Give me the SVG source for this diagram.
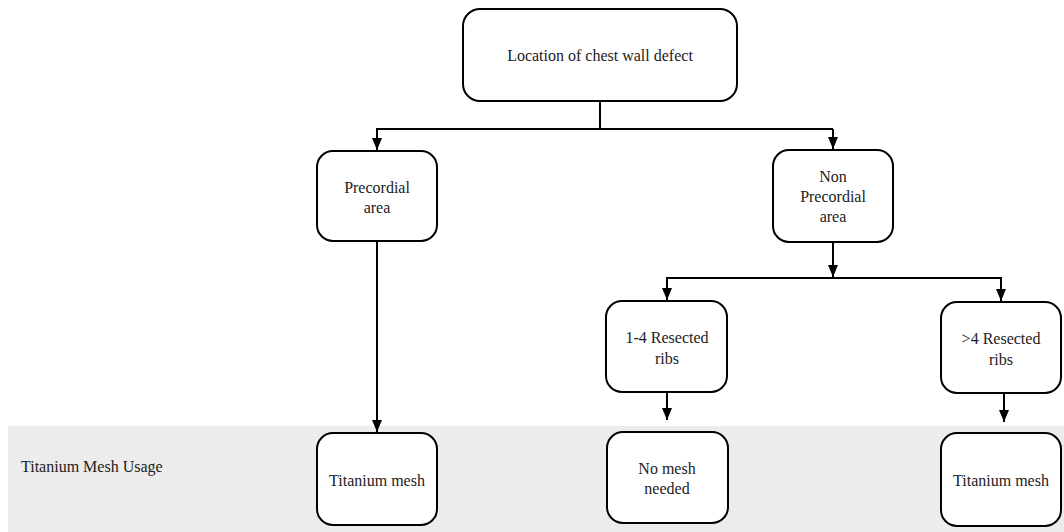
<svg xmlns="http://www.w3.org/2000/svg" width="1064" height="532" viewBox="0 0 1064 532">
<style>
.box{fill:#fff;stroke:#000;stroke-width:2}
text{font-family:'Liberation Serif','Times New Roman','DejaVu Serif',Times,serif;font-size:16px;fill:#222}
.t{text-anchor:middle}
.c{fill:none;stroke:#000;stroke-width:2}
</style>
<defs>
<marker id="arr" markerWidth="12" markerHeight="10" refX="12" refY="5" orient="auto" markerUnits="userSpaceOnUse" viewBox="0 0 12 10">
<path d="M0,0 L12,5 L0,10 Z" fill="#000"/>
</marker>
</defs>
<rect x="8" y="426" width="1056" height="106" fill="#ececec"/>
<text x="21" y="472" font-family="Liberation Serif, serif">Titanium Mesh Usage</text>
<g id="connectors">
<path class="c" d="M600,101 V129"/>
<path class="c" d="M376,129 H833"/>
<path class="c" d="M377,129 V150" marker-end="url(#arr)"/>
<path class="c" d="M833,129 V149" marker-end="url(#arr)"/>
<path class="c" d="M377,241 V432" marker-end="url(#arr)"/>
<path class="c" d="M833,242 V277" marker-end="url(#arr)"/>
<path class="c" d="M666,278 H1002"/>
<path class="c" d="M667,278 V300" marker-end="url(#arr)"/>
<path class="c" d="M1001,278 V301" marker-end="url(#arr)"/>
<path class="c" d="M667,392 V420" marker-end="url(#arr)"/>
<path class="c" d="M1004,393 V422" marker-end="url(#arr)"/>
</g>
<g id="root">
<rect class="box" x="463" y="9" width="274" height="92" rx="17"/>
<text class="t" x="600" y="61" font-family="Liberation Serif, serif">Location of chest wall defect</text>
</g>
<g id="precordial">
<rect class="box" x="317" y="151" width="120" height="90" rx="16"/>
<text class="t" x="377" y="193" font-family="Liberation Serif, serif">Precordial</text>
<text class="t" x="377" y="213" font-family="Liberation Serif, serif">area</text>
</g>
<g id="nonprecordial">
<rect class="box" x="773" y="150" width="120" height="92" rx="16"/>
<text class="t" x="833" y="182" font-family="Liberation Serif, serif">Non</text>
<text class="t" x="833" y="202" font-family="Liberation Serif, serif">Precordial</text>
<text class="t" x="833" y="222" font-family="Liberation Serif, serif">area</text>
</g>
<g id="ribs14">
<rect class="box" x="606" y="301" width="121" height="91" rx="16"/>
<text class="t" x="667" y="343" font-family="Liberation Serif, serif">1-4 Resected</text>
<text class="t" x="667" y="364" font-family="Liberation Serif, serif">ribs</text>
</g>
<g id="ribs4">
<rect class="box" x="941" y="302" width="120" height="91" rx="16"/>
<text class="t" x="1001" y="344" font-family="Liberation Serif, serif">&gt;4 Resected</text>
<text class="t" x="1001" y="365" font-family="Liberation Serif, serif">ribs</text>
</g>
<g id="titanium1">
<rect class="box" x="317" y="433" width="120" height="92" rx="16"/>
<text class="t" x="377" y="486" font-family="Liberation Serif, serif">Titanium mesh</text>
</g>
<g id="nomesh">
<rect class="box" x="607" y="432" width="121" height="91" rx="16"/>
<text class="t" x="667" y="474" font-family="Liberation Serif, serif">No mesh</text>
<text class="t" x="667" y="494" font-family="Liberation Serif, serif">needed</text>
</g>
<g id="titanium2">
<rect class="box" x="941" y="433" width="120" height="93" rx="16"/>
<text class="t" x="1001" y="486" font-family="Liberation Serif, serif">Titanium mesh</text>
</g>
</svg>
